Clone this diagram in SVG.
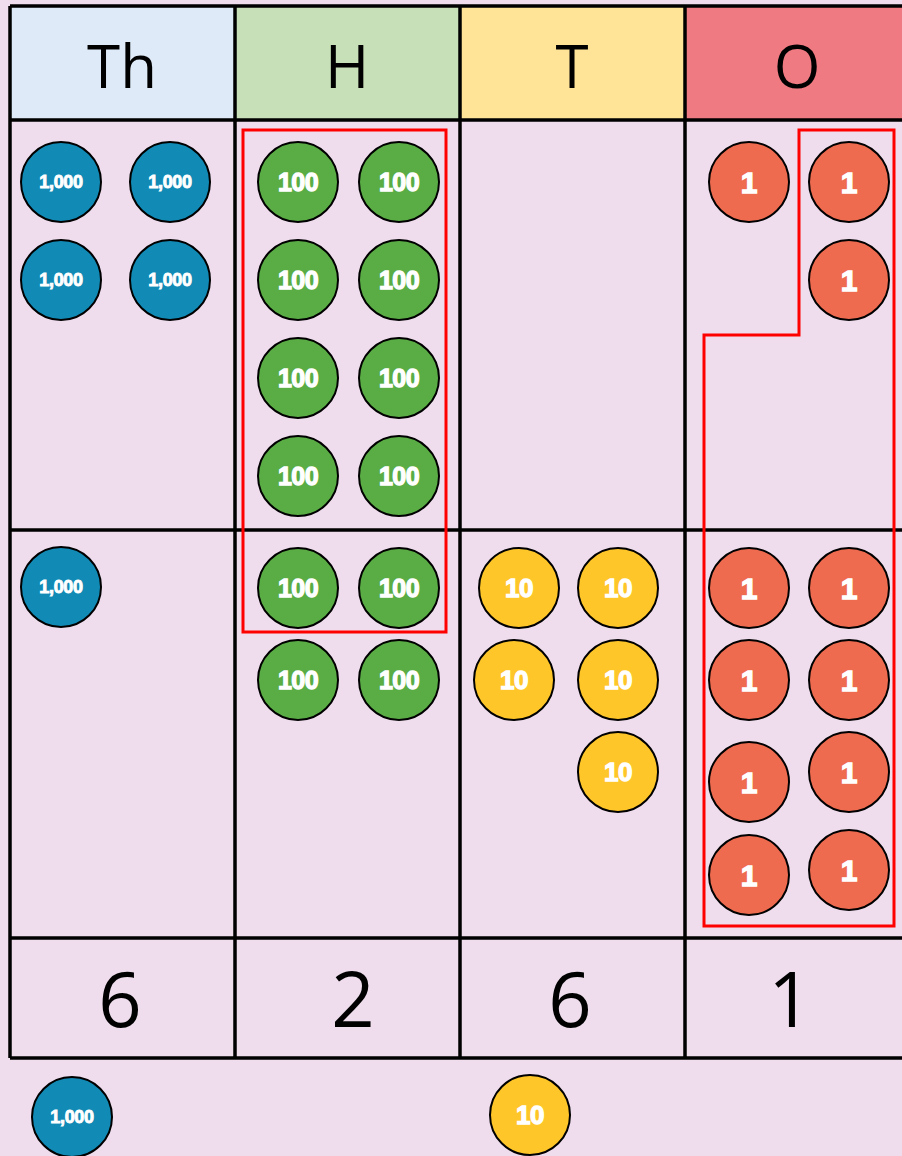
<svg xmlns="http://www.w3.org/2000/svg" width="902" height="1156" viewBox="0 0 902 1156">
<style>
.bg{fill:#EFDDEE}
.grid{stroke:#000;stroke-width:3.5;fill:none}
.hdr{font-family:"Open Sans","Liberation Sans",sans-serif;font-size:60px;fill:#000;text-anchor:middle}
.num{font-family:"Open Sans","Liberation Sans",sans-serif;font-size:76px;fill:#000;text-anchor:middle}
.c{stroke:#000;stroke-width:2}
.th{fill:#118AB5}.hu{fill:#5AAD45}.te{fill:#FFC629}.on{fill:#EE6B50}
.ct{font-family:"Liberation Sans",sans-serif;font-weight:bold;fill:#fff;stroke:#fff;stroke-width:1.3;text-anchor:middle;dominant-baseline:central}
.t4{font-size:18px;letter-spacing:-0.3px;stroke-width:0.9}.t3{font-size:25px;letter-spacing:-0.5px}.t2{font-size:26px;letter-spacing:-0.5px}.t1{font-size:30px}
.red{stroke:#FF0000;stroke-width:3;fill:none}
</style>
<defs>
<g id="k1000"><circle r="40" class="c th"/><text class="ct t4">1,000</text></g>
<g id="k100"><circle r="40" class="c hu"/><text class="ct t3">100</text></g>
<g id="k10"><circle r="40" class="c te"/><text class="ct t2">10</text></g>
<g id="k1"><circle r="40" class="c on"/><text class="ct t1">1</text></g>
</defs>
<rect class="bg" x="0" y="0" width="902" height="1156"/>
<g id="headers">
<rect x="10" y="6" width="225" height="114" fill="#DEEAF7"/>
<rect x="235" y="6" width="225" height="114" fill="#C8E0B8"/>
<rect x="460" y="6" width="225" height="114" fill="#FFE498"/>
<rect x="685" y="6" width="217" height="114" fill="#F07A82"/>
<text class="hdr" x="122" y="88">Th</text>
<text class="hdr" x="347" y="88">H</text>
<text class="hdr" x="572" y="88">T</text>
<text class="hdr" x="797" y="88">O</text>
</g>
<g id="grid">
<path class="grid" d="M10 6H902M10 120H902M10 530H902M10 938H902M10 1058H902M10 6V1058M235 6V1058M460 6V1058M685 6V1058"/>
</g>
<g id="totals">
<text class="num" x="120" y="1027">6</text>
<text class="num" x="353" y="1027">2</text>
<text class="num" x="570" y="1027">6</text>
<text class="num" x="790" y="1027">1</text>
</g>
<g id="thousands">
<use href="#k1000" x="61" y="182"/><use href="#k1000" x="170" y="182"/>
<use href="#k1000" x="61" y="280"/><use href="#k1000" x="170" y="280"/>
<use href="#k1000" x="61" y="587"/>
<use href="#k1000" x="72" y="1117"/>
</g>
<g id="hundreds">
<use href="#k100" x="298" y="182"/><use href="#k100" x="399" y="182"/>
<use href="#k100" x="298" y="280"/><use href="#k100" x="399" y="280"/>
<use href="#k100" x="298" y="378"/><use href="#k100" x="399" y="378"/>
<use href="#k100" x="298" y="476"/><use href="#k100" x="399" y="476"/>
<use href="#k100" x="298" y="588"/><use href="#k100" x="399" y="588"/>
<use href="#k100" x="298" y="680"/><use href="#k100" x="399" y="680"/>
</g>
<g id="tens">
<use href="#k10" x="519" y="588"/><use href="#k10" x="618" y="588"/>
<use href="#k10" x="514" y="680"/><use href="#k10" x="618" y="680"/>
<use href="#k10" x="618" y="772"/>
<use href="#k10" x="530" y="1115"/>
</g>
<g id="ones">
<use href="#k1" x="749" y="182"/><use href="#k1" x="849" y="182"/>
<use href="#k1" x="849" y="280"/>
<use href="#k1" x="749" y="588"/><use href="#k1" x="849" y="588"/>
<use href="#k1" x="749" y="680"/><use href="#k1" x="849" y="680"/>
<use href="#k1" x="749" y="782"/><use href="#k1" x="849" y="772"/>
<use href="#k1" x="749" y="875"/><use href="#k1" x="849" y="870"/>
</g>
<g id="groupings">
<rect class="red" x="243" y="130" width="203" height="502"/>
<path class="red" d="M799 130H894V926H704V335H799Z"/>
</g>
</svg>
